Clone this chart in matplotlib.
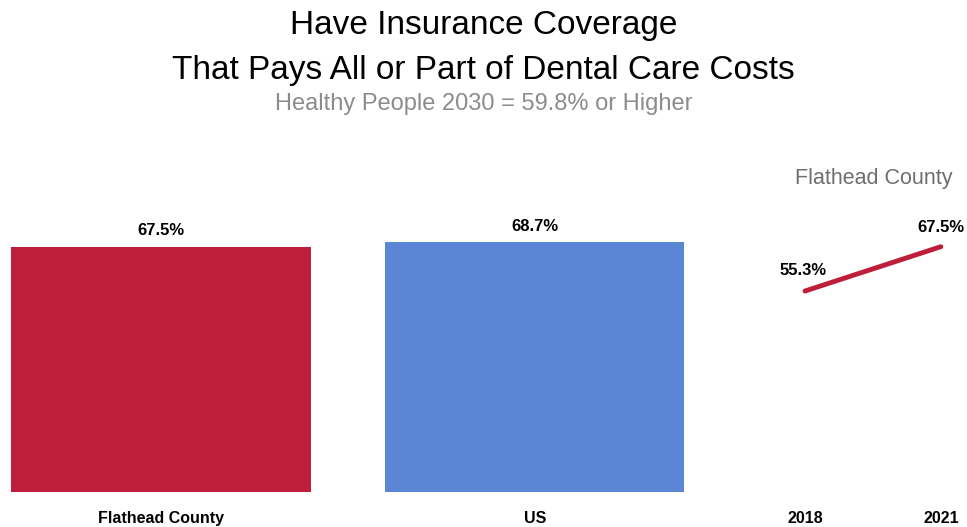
import matplotlib
matplotlib.use("Agg")
import matplotlib.pyplot as plt

# data
bar_labels = ["Flathead County", "US"]
bar_values = [67.5, 68.7]
bar_colors = ["#BE1E3A", "#5B86D6"]

trend_years = [2018, 2021]
trend_values = [55.3, 67.5]

plt.rcParams["font.family"] = ["Liberation Sans", "DejaVu Sans"]

fig = plt.figure(figsize=(9.67, 5.27), dpi=100)

fig.text(0.5, 0.951, "Have Insurance Coverage", ha="center", va="center", fontsize=24, color="black")
fig.text(0.5, 0.867, "That Pays All or Part of Dental Care Costs", ha="center", va="center", fontsize=24, color="black")
fig.text(0.5, 0.803, "Healthy People 2030 = 59.8% or Higher", ha="center", va="center", fontsize=17, color="#8C8C8C")

# bar chart
ax = fig.add_axes([0.0118, 0.0664, 0.696, 0.6896])
x = range(len(bar_labels))
ax.bar(x, bar_values, width=0.802, color=bar_colors)
for xi, v in zip(x, bar_values):
    ax.text(xi, v + 2.3, f"{v}%", ha="center", va="bottom", fontsize=12, fontweight="bold")
ax.set_xlim(-0.4, 1.4)
ax.set_ylim(0, 100)
ax.set_xticks(list(x))
ax.set_xticklabels(bar_labels, fontsize=11.5, fontweight="bold")
ax.tick_params(axis="x", length=0, pad=14)
ax.set_yticks([])
for s in ax.spines.values():
    s.set_visible(False)

# trend line
ax2 = fig.add_axes([0.8137, 0.0664, 0.178, 0.6896])
ax2.plot(trend_years, trend_values, color="#BE1E3A", linewidth=3.5, solid_capstyle="round")
ax2.text(trend_years[0] - 0.05, trend_values[0] + 3.6, f"{trend_values[0]}%", ha="center", va="bottom",
         fontsize=12, fontweight="bold")
ax2.text(trend_years[1], trend_values[1] + 3.3, f"{trend_values[1]}%", ha="center", va="bottom",
         fontsize=12, fontweight="bold")
ax2.set_xlim(2017.6, 2021.4)
ax2.set_ylim(0, 100)
ax2.set_xticks(trend_years)
ax2.set_xticklabels([str(y) for y in trend_years], fontsize=11.5, fontweight="bold")
ax2.tick_params(axis="x", length=0, pad=14)
ax2.set_yticks([])
for s in ax2.spines.values():
    s.set_visible(False)
ax2.text(0.505, 0.864, "Flathead County", transform=ax2.transAxes, ha="center", va="center",
         fontsize=15.5, color="#6E6E6E", clip_on=False)

fig.savefig("out.png", dpi=100)
